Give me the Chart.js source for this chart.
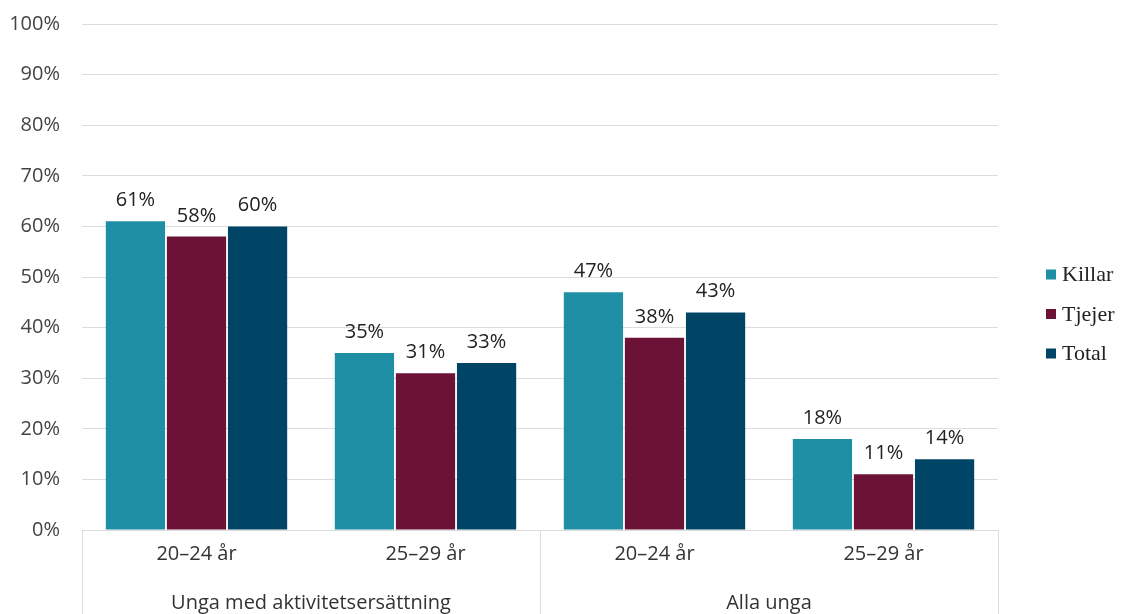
<!DOCTYPE html>
<html>
<head>
<meta charset="utf-8">
<script src="https://cdn.jsdelivr.net/npm/chart.js@4.4.1/dist/chart.umd.min.js"></script>
<style>
  html, body { margin: 0; padding: 0; background: #fff; }
  #wrap { width: 1121px; height: 614px; position: relative; }
</style>
</head>
<body>
<div id="wrap"><canvas id="chart"></canvas></div>
<script>
const categories = ["20–24 år", "25–29 år", "20–24 år", "25–29 år"];
const groups = ["Unga med aktivitetsersättning", "Alla unga"];
const seriesNames = ["Killar", "Tjejer", "Total"];
const killar = [61, 35, 47, 18];
const tjejer = [58, 31, 38, 11];
const total = [60, 33, 43, 14];

const colors = ['#1f8fa6', '#6b1236', '#004566'];
const gridColor = '#dcdcdc';
const sansFont = "'Open Sans', 'Noto Sans', sans-serif";

// data labels above each bar
const valueLabels = {
    id: 'valueLabels',
    afterDatasetsDraw(chart) {
        const ctx = chart.ctx;
        ctx.save();
        ctx.font = '20px ' + sansFont;
        ctx.fillStyle = '#222';
        ctx.textAlign = 'center';
        ctx.textBaseline = 'alphabetic';
        chart.data.datasets.forEach((ds, i) => {
            chart.getDatasetMeta(i).data.forEach((bar, j) => {
                ctx.fillText(ds.data[j] + '%', bar.x, bar.y - 15);
            });
        });
        ctx.restore();
    }
};

// second level of the x axis: group separators and group names
const groupAxis = {
    id: 'groupAxis',
    afterDraw(chart) {
        const ctx = chart.ctx;
        const x = chart.scales.x;
        const top = chart.chartArea.bottom;
        const bottom = chart.height;
        const per = categories.length / groups.length;
        const step = (x.right - x.left) / categories.length;
        ctx.save();
        ctx.strokeStyle = gridColor;
        ctx.lineWidth = 1;
        for (let g = 0; g <= groups.length; g++) {
            const px = Math.round(x.left + g * per * step) + 0.5;
            ctx.beginPath();
            ctx.moveTo(px, top);
            ctx.lineTo(px, bottom);
            ctx.stroke();
        }
        ctx.font = '20px ' + sansFont;
        ctx.fillStyle = '#333';
        ctx.textAlign = 'center';
        ctx.textBaseline = 'middle';
        groups.forEach((name, g) => {
            const cx = x.left + (g + 0.5) * per * step;
            ctx.fillText(name, cx, 603);
        });
        ctx.restore();
    }
};

// legend on the right, serif like the original
const sideLegend = {
    id: 'sideLegend',
    afterDraw(chart) {
        const ctx = chart.ctx;
        const x0 = chart.chartArea.right + 48;
        const gap = 39.5;
        const yMid = chart.height / 2 + 7;
        ctx.save();
        ctx.font = "22px 'Liberation Serif', serif";
        ctx.textBaseline = 'middle';
        ctx.textAlign = 'left';
        chart.data.datasets.forEach((ds, i) => {
            const y = yMid + (i - 1) * gap;
            ctx.fillStyle = ds.backgroundColor;
            ctx.fillRect(x0, y - 5, 10, 10);
            ctx.fillStyle = '#222';
            ctx.fillText(ds.label, x0 + 16, y + 1);
        });
        ctx.restore();
    }
};

new Chart(document.getElementById('chart'), {
    type: 'bar',
    data: {
        labels: categories,
        datasets: [
            { label: seriesNames[0], data: killar, backgroundColor: colors[0] },
            { label: seriesNames[1], data: tjejer, backgroundColor: colors[1] },
            { label: seriesNames[2], data: total, backgroundColor: colors[2] }
        ]
    },
    options: {
        responsive: true,
        maintainAspectRatio: false,
        animation: false,
        layout: { padding: { left: 9, top: 24, right: 123, bottom: 36 } },
        categoryPercentage: 0.8,
        barPercentage: 0.97,
        plugins: {
            legend: { display: false },
            tooltip: { enabled: false }
        },
        scales: {
            x: {
                grid: { display: false, drawTicks: false },
                border: { display: false },
                ticks: {
                    color: '#333',
                    padding: 12,
                    font: { family: sansFont, size: 20 }
                }
            },
            y: {
                min: 0,
                max: 100,
                border: { display: false },
                grid: { color: gridColor, drawTicks: false },
                afterFit: s => { s.width = 73; s.paddingTop = 0; },
                ticks: {
                    stepSize: 10,
                    padding: 22,
                    color: '#444',
                    font: { family: sansFont, size: 20 },
                    callback: v => v + '%'
                }
            }
        }
    },
    plugins: [valueLabels, groupAxis, sideLegend]
});
</script>
</body>
</html>
